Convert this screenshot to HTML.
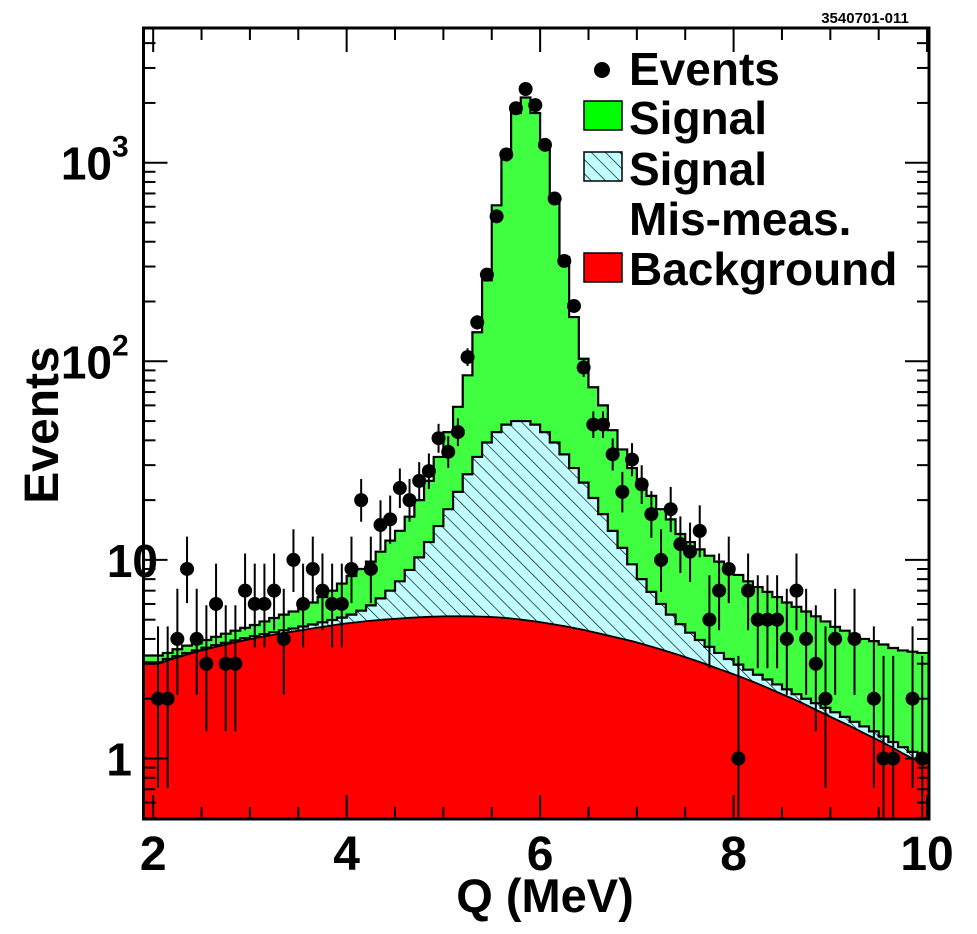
<!DOCTYPE html>
<html><head><meta charset="utf-8"><title>Q distribution</title>
<style>
html,body{margin:0;padding:0;background:#fff;}
svg{display:block;font-family:"Liberation Sans",Arial,sans-serif;font-weight:bold;}
</style></head>
<body>
<svg id="chart" width="977" height="934" viewBox="0 0 977 934" xmlns="http://www.w3.org/2000/svg">
<defs>
<pattern id="hatch" patternUnits="userSpaceOnUse" width="10" height="10" patternTransform="rotate(-45)">
<rect width="10" height="10" fill="#c0ffff"/>
<line x1="0" y1="0" x2="0" y2="10" stroke="#000" stroke-width="1.3"/>
</pattern>
<clipPath id="frameClip"><rect x="143.5" y="28" width="785.5" height="791"/></clipPath>
</defs>
<g id="plot" clip-path="url(#frameClip)"></g>
<g id="axes"></g>
<text x="865" y="23" font-size="15" text-anchor="middle">3540701-011</text>
<g>
<g>
<circle cx="602" cy="70" r="8" fill="#000"/>
<text x="629" y="85" font-size="46">Events</text></g>
<g>
<rect x="584" y="101" width="38" height="29" fill="#00ff00" stroke="#000" stroke-width="1.5"/>
<text x="629" y="134" font-size="46">Signal</text></g>
<g>
<rect x="584" y="152" width="38" height="29" fill="url(#hatch)" stroke="#000" stroke-width="1.5"/>
<text x="629" y="185" font-size="46">Signal</text>
<text x="629" y="235" font-size="46">Mis-meas.</text></g>
<g>
<rect x="584" y="253" width="38" height="29" fill="#ff0000" stroke="#000" stroke-width="1.5"/>
<text x="629" y="285" font-size="46">Background</text></g>
</g>
<text x="545" y="912" font-size="47" text-anchor="middle">Q (MeV)</text>
<text transform="translate(58,425) rotate(-90)" font-size="48" text-anchor="middle">Events</text>
</svg>
<script>
const binEdgesStart = 2.0;
const binWidth = 0.1;
const events = [2,2,4,9,4,3,6,3,3,7, 6,6,7,4,10,6,9,7,6,6, 9,20,9,15,16,23,20,25,28,41, 35,44,105,157,273,537,1100,1880,2350,1950, 1230,660,320,190,93,48,48,34,22,32, 24,17,10,18,12,11,14,5,7,9, 1,7,5,5,5,4,7,4,3,2, 4,0,4,0,2,1,1,0,2,1];
const totalTop = [3.3,3.4,3.55,3.7,3.8,3.95,4.1,4.25,4.4,4.55, 4.7,4.9,5.1,5.3,5.5,5.8,6.1,6.5,7.0,7.6, 8.3,9.0,9.8,11,12.5,14,16.5,20,25,33, 44,59,85,140,256,610,1070,1780,2130,1780, 1260,676,335,167,103,74,60,45,36,29, 25,21,18,16,13.5,12.3,11.3,10.5,9.8,9.0, 8.4,7.8,7.3,6.9,6.5,6.1,5.8,5.5,5.2,4.9, 4.6,4.4,4.2,4.0,3.9,3.75,3.6,3.5,3.45,3.4];
const misMeasTop = [3.05,3.17,3.28,3.4,3.5,3.61,3.72,3.82,3.93,4.03, 4.13,4.23,4.32,4.42,4.51,4.62,4.73,4.85,4.98,5.12, 5.3,5.55,5.9,6.4,7.0,7.8,8.9,10.3,12.3,14.8, 18,22,27,33,39,44,48,50,50,48, 44,39,34,29,24.5,20.5,17,14,11.5,9.5, 8,6.9,6.0,5.3,4.75,4.3,3.95,3.65,3.4,3.17, 2.97,2.8,2.64,2.5,2.36,2.23,2.11,2.0,1.9,1.8, 1.71,1.62,1.53,1.45,1.37,1.29,1.21,1.14,1.08,1.02];
const background = [3.0,3.12,3.23,3.34,3.45,3.55,3.65,3.75,3.85,3.94, 4.03,4.12,4.2,4.28,4.36,4.44,4.52,4.6,4.68,4.76, 4.82,4.88,4.94,4.99,5.03,5.07,5.11,5.14,5.17,5.19, 5.2,5.2,5.2,5.19,5.17,5.14,5.1,5.04,4.97,4.9, 4.82,4.73,4.64,4.54,4.44,4.33,4.22,4.11,4.0,3.9, 3.78,3.66,3.54,3.42,3.3,3.18,3.06,2.94,2.82,2.71, 2.6,2.49,2.38,2.27,2.16,2.06,1.96,1.86,1.76,1.67, 1.58,1.5,1.42,1.34,1.27,1.2,1.13,1.06,1.0,0.95];
const xTickLabels = ["2","4","6","8","10"];
const xTickValues = [2,4,6,8,10];
const yTickValues = [1,10,100,1000];

const NS = "http://www.w3.org/2000/svg";
const X0 = 143.5, X1 = 929, Y0 = 28, Y1 = 819;
const XMIN = 1.9, XMAX = 10.02;
function xs(v){ return X0 + (v - XMIN) * (X1 - X0) / (XMAX - XMIN); }
function ys(v){ return 758.5 - 198.6 * Math.log10(v); }
function mk(tag, attrs, parent){ const e = document.createElementNS(NS, tag); for (const k in attrs) e.setAttribute(k, attrs[k]); parent.appendChild(e); return e; }

const plot = document.getElementById("plot");
const axes = document.getElementById("axes");
const n = events.length;

function stepPath(vals, closed){
  let d = "";
  for (let i = 0; i < n; i++){
    let xa = xs(binEdgesStart + i * binWidth), xb = xs(binEdgesStart + (i + 1) * binWidth);
    if (i === 0) xa = X0 - 2;
    if (i === n - 1) xb = X1 + 2;
    const y = ys(vals[i]);
    d += (i === 0 ? (closed ? "M" + xa + "," + (Y1 + 2) + " L" : "M") : "L") + xa + "," + y + " L" + xb + "," + y + " ";
  }
  if (closed) d += "L" + (X1 + 2) + "," + (Y1 + 2) + " Z";
  return d;
}
function curvePath(vals, closed){
  let d = "M" + (X0 - 2) + "," + ys(vals[0]) + " ";
  for (let i = 0; i < n; i++){
    d += "L" + xs(binEdgesStart + (i + 0.5) * binWidth) + "," + ys(vals[i]) + " ";
  }
  d += "L" + (X1 + 2) + "," + ys(vals[n - 1]) + " ";
  if (closed) d += "L" + (X1 + 2) + "," + (Y1 + 2) + " L" + (X0 - 2) + "," + (Y1 + 2) + " Z";
  return d;
}

const gFill = mk("path", {d: stepPath(totalTop, true), fill: "#40ff40"}, plot);


const cFill = mk("path", {d: stepPath(misMeasTop, true), fill: "url(#hatch)"}, plot);


const rFill = mk("path", {d: curvePath(background, true), fill: "#ff0000"}, plot);


const gLine = mk("path", {d: stepPath(totalTop, false), fill: "none", stroke: "#000", "stroke-width": 2.2}, plot);


const cLine = mk("path", {d: stepPath(misMeasTop, false), fill: "none", stroke: "#000", "stroke-width": 2.2}, plot);


const rLine = mk("path", {d: curvePath(background, false), fill: "none", stroke: "#000", "stroke-width": 1.8}, plot);



function poisLo(k){ if (k <= 0) return 0; const t = 1 - 1/(9*k) - 1/(3*Math.sqrt(k)); return k * t*t*t; }
function poisHi(k){ const m = k + 1; const t = 1 - 1/(9*m) + 1/(3*Math.sqrt(m)); return m * t*t*t; }
for (let i = 0; i < n; i++){
  const k = events[i];
  if (k <= 0) continue;
  const cx = xs(binEdgesStart + (i + 0.5) * binWidth);
  const lo = poisLo(k), hi = poisHi(k);
  const yl = lo > 0.45 ? ys(lo) : Y1 + 2;
  const bar = mk("line", {x1: cx, x2: cx, y1: ys(hi), y2: yl, stroke: "#000", "stroke-width": 2}, plot);
  
  
  const dot = mk("circle", {cx: cx, cy: ys(k), r: 7, fill: "#000"}, plot);
  
  
}

const frame = mk("rect", {x: X0, y: Y0, width: X1 - X0, height: Y1 - Y0, fill: "none", stroke: "#000", "stroke-width": 3}, axes);



for (let v = 2; v <= 10.001; v += 0.5){
  const major = Math.abs(v - Math.round(v / 2) * 2) < 1e-6;
  const L = major ? 24 : 12;
  const x = xs(v);
  const t1 = mk("line", {x1: x, x2: x, y1: Y1, y2: Y1 - L, stroke: "#000", "stroke-width": 2}, axes);
  
  
  const t2 = mk("line", {x1: x, x2: x, y1: Y0, y2: Y0 + L, stroke: "#000", "stroke-width": 2}, axes);
  
  
}
for (let i = 0; i < xTickValues.length; i++){
  const lab = mk("text", {x: xs(xTickValues[i]), y: 870, "font-size": 48, "text-anchor": "middle"}, axes);
  lab.textContent = xTickLabels[i];
  
  
}
for (let dec = 0.1; dec <= 1000; dec *= 10){
  for (let m = 1; m <= 9; m++){
    const v = dec * m;
    const y = ys(v);
    if (y < Y0 || y > Y1) continue;
    const L = m === 1 ? 24 : 12;
    const a = mk("line", {x1: X0, x2: X0 + L, y1: y, y2: y, stroke: "#000", "stroke-width": 2}, axes);
    
    
    const b = mk("line", {x1: X1, x2: X1 - L, y1: y, y2: y, stroke: "#000", "stroke-width": 2}, axes);
    
    
  }
}
for (let i = 0; i < yTickValues.length; i++){
  const v = yTickValues[i];
  const y = ys(v);
  const g = mk("text", {x: 132, y: y + 17, "font-size": 46, "text-anchor": "end"}, axes);
  
  
  if (v === 1){ g.textContent = "1"; }
  else if (v === 10){ g.setAttribute("x", 158); g.textContent = "10"; }
  else {
    g.setAttribute("x", 112);
    g.textContent = "10";
    const s = mk("text", {x: 112, y: y - 6, "font-size": 30}, axes);
    s.textContent = String(Math.round(Math.log10(v)));
    
    
  }
}
</script>
</body></html>
